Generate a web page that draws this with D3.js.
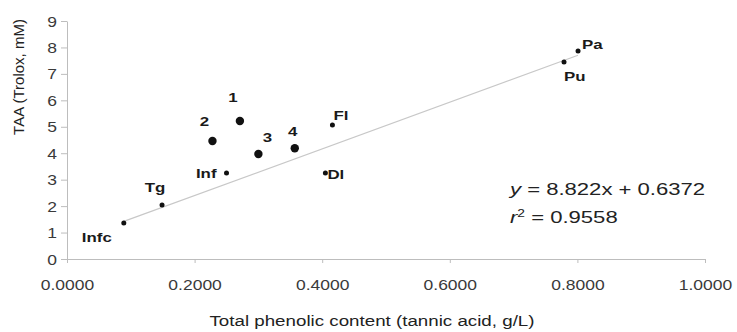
<!DOCTYPE html>
<html>
<head>
<meta charset="utf-8">
<script src="https://d3js.org/d3.v7.min.js"></script>
<style>
  body { margin: 0; background: #fff; }
  svg { display: block; font-family: "Liberation Sans", Arial, sans-serif; }
  .axis path, .axis line { stroke: #bdbdbd; }
  .axis text { fill: #3a3a3a; font-size: 14px; }
</style>
</head>
<body>
<svg id="chart" width="737" height="332"></svg>
<script>
// samples
var names  = ["Infc", "Tg",  "Inf", "Dl",  "1",  "2",  "3",  "4",  "Fl", "Pa", "Pu"];
var phenol = [0.089, 0.149, 0.250, 0.405, 0.271, 0.228, 0.300, 0.357, 0.416, 0.801, 0.779];
var taa    = [1.36,  2.04,  3.25,  3.25,  5.22,  4.46,  3.97,  4.19,  5.07,  7.87,  7.45];
var bigDot = [false, false, false, false, true, true, true, true, false, false, false];
var fitSlope = 8.822, fitIntercept = 0.6372, rSquared = 0.9558;
var xTicks = [0, 0.2, 0.4, 0.6, 0.8, 1.0];
var yTicks = [0, 1, 2, 3, 4, 5, 6, 7, 8, 9];

// label placement next to each point: [dx, dy, anchor]
var labelPos = {
  "Infc": [-12, 19, "end"], "Tg": [-7, -13, "middle"], "Inf": [-10, 5, "end"],
  "Dl": [2, 6, "start"], "1": [-7, -19, "middle"], "2": [-8, -15, "middle"],
  "3": [9, -12, "middle"], "4": [-2, -12, "middle"], "Fl": [1, -5, "start"],
  "Pa": [4, -2, "start"], "Pu": [0, 19, "start"]
};
var sx = 1.25; // reference text is stretched sideways

var data = names.map(function(n, i) {
  return { name: n, x: phenol[i], y: taa[i], big: bigDot[i] };
});

var svg = d3.select("#chart");
var x = d3.scaleLinear().domain([0, 1]).range([67, 705]);
var y = d3.scaleLinear().domain([0, 9]).range([259, 21]);

function stretched(parent, px, py, anchor, k) {
  return parent.append("g").attr("transform", "translate(" + px + "," + py + ")")
    .append("text").attr("text-anchor", anchor)
    .attr("transform", "scale(" + (k || sx) + ",1)");
}

var xAxis = svg.append("g").attr("class", "axis")
  .attr("transform", "translate(0," + y(0) + ")")
  .call(d3.axisBottom(x).tickValues(xTicks).tickSize(4).tickSizeOuter(0)
    .tickFormat(d3.format(".4f")));
xAxis.selectAll("text").attr("dy", "1.75em").attr("transform", "scale(" + sx + ",1)");

var yAxis = svg.append("g").attr("class", "axis")
  .attr("transform", "translate(" + x(0) + ",0)")
  .call(d3.axisLeft(y).tickValues(yTicks).tickSize(6).tickSizeOuter(0)
    .tickFormat(d3.format("d")));
yAxis.selectAll("text").attr("x", -8).attr("dy", "0.36em")
  .attr("transform", "scale(" + sx + ",1)");

// trend line over the sample range
var xr = d3.extent(phenol);
svg.append("line")
  .attr("x1", x(xr[0])).attr("y1", y(fitSlope * xr[0] + fitIntercept))
  .attr("x2", x(xr[1])).attr("y2", y(fitSlope * xr[1] + fitIntercept))
  .attr("stroke", "#c8c8c8").attr("stroke-width", 1.2);

svg.selectAll(".pt").data(data).enter().append("circle")
  .attr("class", "pt")
  .attr("cx", function(d) { return x(d.x); })
  .attr("cy", function(d) { return y(d.y); })
  .attr("r", function(d) { return d.big ? 4.2 : 2.5; })
  .attr("fill", "#111");

data.forEach(function(d) {
  var p = labelPos[d.name];
  stretched(svg, x(d.x) + p[0], y(d.y) + p[1], p[2])
    .attr("font-size", 13.5).attr("font-weight", "bold").attr("fill", "#1a1a1a")
    .text(d.name);
});

// axis titles
stretched(svg, 372, 326, "middle").attr("font-size", 15).attr("fill", "#222")
  .text("Total phenolic content (tannic acid, g/L)");
svg.append("text").attr("transform", "translate(24,77) rotate(-90)")
  .attr("text-anchor", "middle").attr("font-size", 15).attr("fill", "#222")
  .text("TAA (Trolox, mM)");

// fit equation
var eq = stretched(svg, 510, 195, "start", 1.38).attr("font-size", 16).attr("fill", "#222");
eq.append("tspan").attr("font-style", "italic").text("y");
eq.append("tspan").text(" = " + fitSlope + "x + " + fitIntercept);
var rq = stretched(svg, 510, 223, "start", 1.38).attr("font-size", 16).attr("fill", "#222");
rq.append("tspan").attr("font-style", "italic").text("r");
rq.append("tspan").attr("font-size", 10).attr("dy", -6).text("2");
rq.append("tspan").attr("dy", 6).text(" = " + rSquared);
</script>
</body>
</html>
